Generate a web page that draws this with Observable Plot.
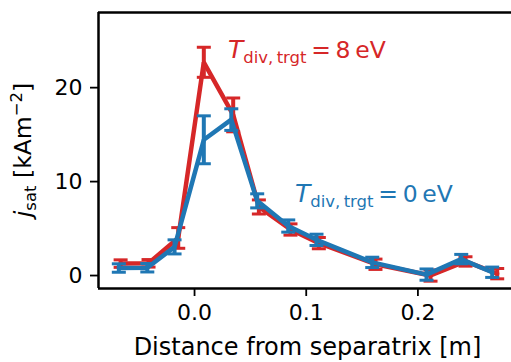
<!DOCTYPE html>
<html><head><meta charset="utf-8">
<script src="https://cdn.jsdelivr.net/npm/d3@7"></script>
<script src="https://cdn.jsdelivr.net/npm/@observablehq/plot@0.6"></script>
<style>body{margin:0;background:#fff}svg{display:block}</style>
</head><body><div id="chart"></div>
<script>
// Blue series: T_div,trgt = 0 eV
const blueX   = [-0.0678, -0.0423, -0.0179, 0.0083, 0.0329, 0.0561, 0.0839, 0.1092, 0.1591, 0.2077, 0.2388, 0.2665];
const blueY   = [0.80, 0.83, 3.05, 14.45, 16.6, 7.95, 5.27, 3.80, 1.40, 0.10, 1.75, 0.35];
const blueErr = [0.45, 0.45, 0.75, 2.55, 1.15, 0.75, 0.65, 0.60, 0.55, 0.60, 0.50, 0.55];
// Red series: T_div,trgt = 8 eV
const redX    = [-0.0662, -0.0412, -0.0146, 0.0083, 0.0346, 0.0576, 0.0859, 0.1113, 0.1620, 0.2113, 0.2426, 0.2710];
const redY    = [1.27, 1.30, 4.00, 22.7, 17.1, 7.30, 4.90, 3.45, 1.20, 0.00, 1.50, 0.20];
const redErr  = [0.40, 0.40, 1.10, 1.60, 1.80, 0.75, 0.60, 0.60, 0.55, 0.60, 0.50, 0.55];

const xTicks = [0, 0.1, 0.2];
const yTicks = [0, 10, 20];
const xDomain = [-0.086, 0.2838];
const yDomain = [-1.38, 28.0];

const blueColor = "#1f77b4", redColor = "#d62728";

const mk = (xs, ys, es) => xs.map((x, i) => ({x, y: ys[i], lo: ys[i] - es[i], hi: ys[i] + es[i]}));
const blue = mk(blueX, blueY, blueErr);
const red = mk(redX, redY, redErr);

const capSymbol = {draw(ctx, size) { const w = Math.sqrt(size / Math.PI); ctx.moveTo(-w, 0); ctx.lineTo(w, 0); }};

function series(data, color) {
  return [
    Plot.line(data, {x: "x", y: "y", stroke: color, strokeWidth: 4.5, strokeLinejoin: "miter"}),
    Plot.ruleX(data, {x: "x", y1: "lo", y2: "hi", stroke: color, strokeWidth: 4}),
    Plot.dot(data, {x: "x", y: "lo", symbol: capSymbol, r: 7, stroke: color, strokeWidth: 3}),
    Plot.dot(data, {x: "x", y: "hi", symbol: capSymbol, r: 7, stroke: color, strokeWidth: 3})
  ];
}

const chart = Plot.plot({
  width: 511, height: 362,
  marginLeft: 98, marginRight: 0, marginTop: 12, marginBottom: 74,
  style: {fontFamily: "DejaVu Sans", fontSize: "22px", color: "#000", background: "#fff"},
  x: {domain: xDomain},
  y: {domain: yDomain},
  marks: [
    Plot.axisX({ticks: xTicks, tickFormat: d3.format(".1f"), tickSize: 8, tickPadding: 8, strokeWidth: 1.8, fontSize: 22, label: null}),
    Plot.axisY({ticks: yTicks, tickFormat: d3.format("d"), tickSize: 8, tickPadding: 8, strokeWidth: 1.8, fontSize: 22, label: null}),
    ...series(red, redColor),
    ...series(blue, blueColor),
    Plot.ruleY([yDomain[0], yDomain[1]], {stroke: "#000", strokeWidth: 2.5}),
    Plot.ruleX([xDomain[0]], {stroke: "#000", strokeWidth: 2.5})
  ]
});
document.getElementById("chart").appendChild(chart);

const sx = chart.scale("x"), sy = chart.scale("y");
const svg = d3.select(chart);
const F = "DejaVu Sans";

function annot(x, y, val, color) {
  const t = svg.append("text").attr("x", sx.apply(x)).attr("y", sy.apply(y))
    .attr("text-anchor", "start")
    .attr("fill", color).attr("font-family", F).attr("font-size", 23.5);
  t.append("tspan").attr("font-style", "italic").attr("font-size", 25).text("T");
  t.append("tspan").attr("font-size", 16.5).attr("dy", 5).text("div,\u2009trgt");
  t.append("tspan").attr("dy", -5).text("\u2009=\u2009" + val + "\u2009eV");
}
annot(0.0304, 23.1, "8", redColor);
annot(0.0904, 7.8, "0", blueColor);

// Axis titles
const xr = sx.range;
svg.append("text").attr("x", (xr[0] + xr[1]) / 2 + 3).attr("y", 355)
  .attr("text-anchor", "middle").attr("font-family", F).attr("font-size", 24).attr("fill", "#000")
  .text("Distance from separatrix [m]");
const yr = sy.range;
const yl = svg.append("text").attr("transform", `translate(31,${(yr[0] + yr[1]) / 2}) rotate(-90)`)
  .attr("text-anchor", "middle").attr("font-family", F).attr("font-size", 23.5).attr("fill", "#000");
yl.append("tspan").attr("font-style", "italic").text("j");
yl.append("tspan").attr("font-size", 16.5).attr("dy", 5).text("sat");
yl.append("tspan").attr("dy", -5).text(" [kAm");
yl.append("tspan").attr("font-size", 16.5).attr("dy", -9).text("\u22122");
yl.append("tspan").attr("dy", 9).text("]");
</script></body></html>
